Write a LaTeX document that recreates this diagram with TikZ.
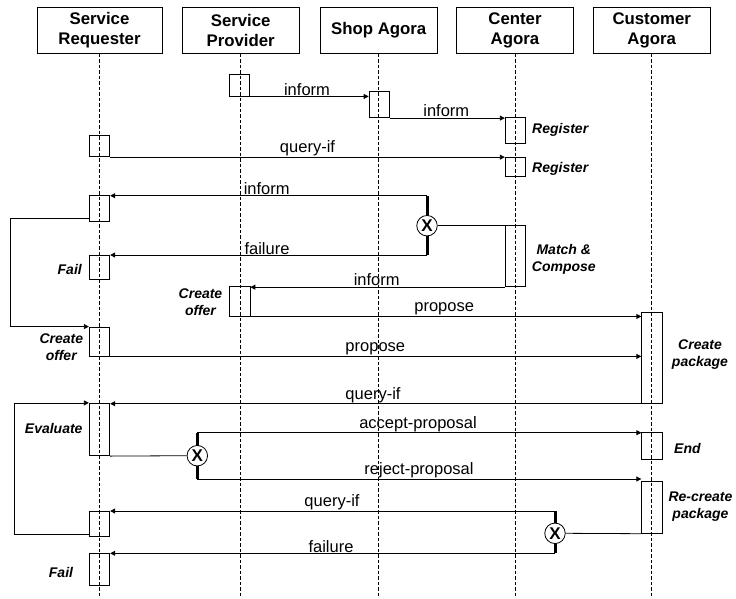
\documentclass[tikz,border=0pt]{standalone}
\usepackage{fontspec}
\setmainfont{Liberation Sans}
\usetikzlibrary{arrows.meta}

\begin{document}
\begin{tikzpicture}[x=1pt, y=-1pt,
    headbox/.style={draw, minimum width=117pt, minimum height=45.5pt, align=center,
        inner sep=0pt, line width=0.8pt, font=\fontsize{16.8}{20}\selectfont\bfseries},
    lifeline/.style={dash pattern=on 3.5pt off 2pt, line width=0.7pt},
    actbox/.style={draw, minimum width=20.5pt, inner sep=0pt, line width=0.8pt},
    msgline/.style={line width=0.8pt, -{Triangle[length=5pt,width=5pt]}},
    plainline/.style={line width=0.8pt},
    msglabel/.style={anchor=south, inner sep=0.5pt, font=\fontsize{16.5}{18}\selectfont},
    note/.style={align=center, inner sep=0pt, font=\fontsize{14}{17}\selectfont\bfseries\itshape},
    xorbar/.style={line width=3pt},
    xorcirc/.style={draw, circle, fill=white, minimum size=20.5pt, inner sep=0pt,
        line width=0.8pt, font=\fontsize{17}{17}\selectfont\bfseries}]

    \useasboundingbox (0,0) rectangle (736,598);

    % Agents
    \node[headbox, minimum width=125pt] (req) at (99.5,30.4) {Service\\Requester};
    \node[headbox] (prov) at (240.7,30.4) {Service\\Provider};
    \node[headbox] (shop) at (378.7,30.4) {Shop Agora};
    \node[headbox] (cent) at (515,30.4) {Center\\Agora};
    \node[headbox] (cust) at (651.7,30.4) {Customer\\Agora};

    % Lifelines
    \coordinate (bottom) at (0,598);
    \foreach \a in {req,prov,shop,cent,cust}
        \draw[lifeline] (\a.south) -- (\a.south |- bottom);

    % Activations
    \node[actbox, minimum height=21.3pt] (sp1) at (239.5,85.4) {};
    \node[actbox, minimum height=26pt] (shop1) at (379.3,104.7) {};
    \node[actbox, minimum height=25.6pt] (reg1) at (515.5,130.5) {};
    \node[actbox, minimum height=18.3pt] (reg2) at (515.5,166.9) {};
    \node[actbox, minimum height=21.7pt] (req1) at (99.5,145.9) {};
    \node[actbox, minimum height=26pt] (req2) at (99.5,208.7) {};
    \node[actbox, minimum height=23.3pt] (fail1) at (99.5,267.4) {};
    \node[actbox, minimum height=29.3pt] (offer1) at (239.7,301.4) {};
    \node[actbox, minimum height=29pt] (offer2) at (99.5,341.5) {};
    \node[actbox, minimum height=61.7pt] (match) at (515.3,255.9) {};
    \node[actbox, minimum height=90.6pt] (pack) at (652,358) {};
    \node[actbox, minimum height=52.4pt] (eval) at (99.5,429.5) {};
    \node[actbox, minimum height=26.3pt] (endb) at (652,445.9) {};
    \node[actbox, minimum height=52pt] (repack) at (652,507.3) {};
    \node[actbox, minimum height=25.7pt] (req3) at (99.5,523.9) {};
    \node[actbox, minimum height=31.7pt] (fail2) at (99.5,569.2) {};

    % Activity notes
    \node[note, anchor=west] (n1) at (532,130) {Register};
    \node[note, anchor=west] (n2) at (532,169.3) {Register};
    \node[note, anchor=east] (n3) at (82,269.3) {Fail};
    \node[note] (n4) at (200.5,301.7) {Create\\offer};
    \node[note] (n5) at (61.3,347.5) {Create\\offer};
    \node[note] (n6) at (563.8,259.7) {Match \&\\Compose};
    \node[note] (n7) at (700,355) {Create\\package};
    \node[note, anchor=east] (n8) at (82.7,428.3) {Evaluate};
    \node[note, anchor=west] (n9) at (674,448.3) {End};
    \node[note] (n10) at (700.5,507) {Re-create\\package};
    \node[note] (n11) at (61,572.7) {Fail};

    % Choice points
    \coordinate (x1t) at (427,195.7);
    \coordinate (x1b) at (427,255);
    \draw[xorbar] (x1t) -- (x1b);
    \node[xorcirc] (x1) at (427,225.7) {X};

    \coordinate (x2t) at (197.3,432.7);
    \coordinate (x2b) at (197.3,479);
    \draw[xorbar] (x2t) -- (x2b);
    \node[xorcirc] (x2) at (197.3,455.7) {X};

    \coordinate (x3t) at (555,511);
    \coordinate (x3b) at (555,553.3);
    \draw[xorbar] (x3t) -- (x3b);
    \node[xorcirc] (x3) at (555,533.3) {X};

    % Messages
    \draw[msgline] (sp1.south east) -- (sp1.south east -| shop1.west);
    \draw[msgline] (shop1.south east) -- (shop1.south east -| reg1.west);
    \draw[msgline] (req1.south east) -- (req1.south east -| reg2.west);
    \draw[msgline] (x1t) -- (x1t -| req2.east);
    \draw[plainline] (x1.east) -- (x1.east -| match.west);
    \draw[msgline] (x1b) -- (x1b -| fail1.east);
    \draw[msgline] (match.south west) -- (match.south west -| offer1.east);
    \draw[msgline] (offer1.south east) -- (offer1.south east -| pack.west);
    \draw[msgline] ([yshift=4pt]req2.south west) -- ++(-78.3,0) |- (offer2.north west);
    \draw[msgline] (offer2.south east) -- (offer2.south east -| pack.west);
    \draw[msgline] (pack.south west) -- (pack.south west -| eval.east);
    \draw[msgline] ([yshift=3pt]req3.south west) -- ++(-74.3,0) |- (eval.north west);
    \draw[plainline] (eval.south east) -- (x2.west);
    \draw[msgline] (x2t) -- (x2t -| endb.west);
    \draw[msgline] (x2b) -- (x2b -| repack.west);
    \draw[plainline] (repack.south west) -- (x3.east);
    \draw[msgline] (x3t) -- (x3t -| req3.east);
    \draw[msgline] (x3b) -- (x3b -| fail2.east);

    % Message labels
    \node[msglabel] (m1) at (307,96) {inform};
    \node[msglabel] (m2) at (446.3,117.7) {inform};
    \node[msglabel] (m3) at (307.5,157) {query-if};
    \node[msglabel] (m4) at (266.7,195.7) {inform};
    \node[msglabel] (m5) at (267,255) {failure};
    \node[msglabel] (m6) at (376.7,286.7) {inform};
    \node[msglabel] (m7) at (444.2,316) {propose};
    \node[msglabel] (m8) at (375.3,356) {propose};
    \node[msglabel] (m9) at (373,403.3) {query-if};
    \node[msglabel] (m10) at (418,432.7) {accept-proposal};
    \node[msglabel] (m11) at (419,479) {reject-proposal};
    \node[msglabel] (m12) at (332,511) {query-if};
    \node[msglabel] (m13) at (331,553.3) {failure};

\end{tikzpicture}
\end{document}
